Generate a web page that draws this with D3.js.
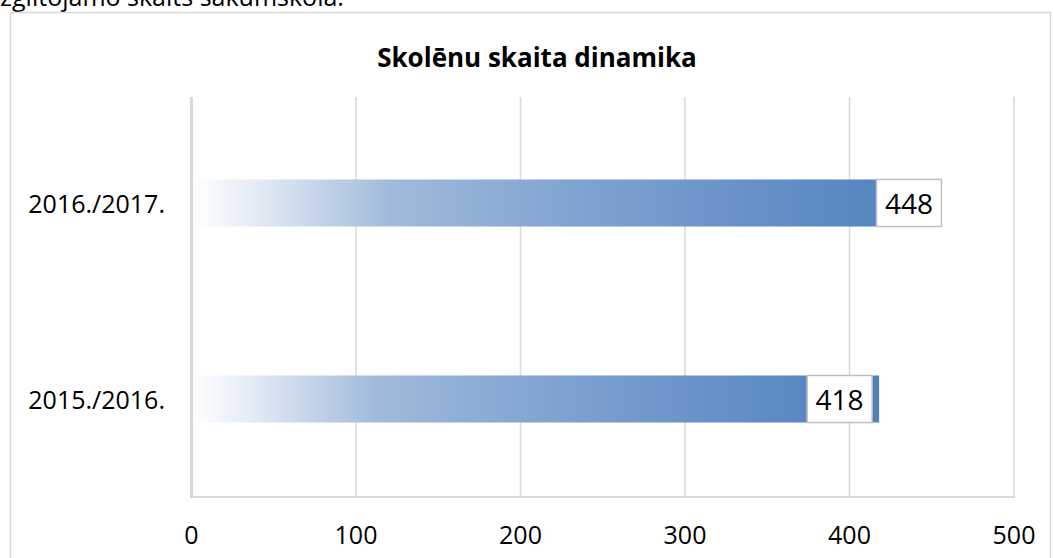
<!DOCTYPE html>
<html>
<head>
<meta charset="utf-8">
<script src="https://cdn.jsdelivr.net/npm/d3@7"></script>
<style>
  body { margin: 0; background: #fff; overflow: hidden; }
  text { font-family: "Open Sans", "Noto Sans", sans-serif; fill: #000; }
</style>
</head>
<body>
<svg width="1053" height="558"></svg>
<script>
// data
const categories = ['2016./2017.', '2015./2016.'];
const values = [448, 418];
const xTicks = [0, 100, 200, 300, 400, 500];
const title = 'Skolēnu skaita dinamika';
const topText = 'izglītojamo skaits sākumskolā.';
// label box shift from bar end (excel placed them a bit differently)
const labelShift = [-52, -72];

const svg = d3.select('svg');
const plot = {left: 191.5, right: 1014, top: 105, bottom: 497, gridTop: 97};

// text cut off at top of page
svg.append('text')
    .attr('x', -6).attr('y', 6)
    .style('font-size', '25px')
    .text(topText);

// chart border
svg.append('rect')
    .attr('x', 10.5).attr('y', 12.5)
    .attr('width', 1040).attr('height', 560)
    .style('fill', 'none').style('stroke', '#d9d9d9').style('stroke-width', 1.5);

svg.append('text')
    .attr('x', 537).attr('y', 57)
    .attr('text-anchor', 'middle')
    .attr('dominant-baseline', 'central')
    .style('font-size', '26px').style('font-weight', 'bold')
    .text(title);

const x = d3.scaleLinear().domain([0, 500]).range([plot.left, plot.right]);
const y = d3.scaleBand().domain(categories).range([plot.top, plot.bottom])
    .paddingInner(0.76).paddingOuter(0.38);

// gradient
const defs = svg.append('defs');
const grad = defs.append('linearGradient').attr('id', 'barGrad')
    .attr('x1', 0).attr('x2', 1).attr('y1', 0).attr('y2', 0);
[[0, '#ffffff'], [0.08, '#e6edf6'], [0.27, '#a0badb'], [0.5, '#82a5d1'],
 [0.75, '#6891c8'], [1, '#4f81bd']].forEach(s => {
    grad.append('stop').attr('offset', s[0]).attr('stop-color', s[1]);
});

// grid lines
svg.append('g').selectAll('line')
    .data(xTicks.slice(1))
    .enter().append('line')
    .attr('x1', d => x(d)).attr('x2', d => x(d))
    .attr('y1', plot.gridTop).attr('y2', plot.bottom)
    .style('stroke', '#d9d9d9').style('stroke-width', 1.5);

// bars
svg.append('g').selectAll('rect')
    .data(values)
    .enter().append('rect')
    .attr('x', x(0))
    .attr('y', (d, i) => y(categories[i]))
    .attr('width', d => x(d) - x(0))
    .attr('height', y.bandwidth())
    .style('fill', 'url(#barGrad)');

// axes lines
svg.append('line')
    .attr('x1', x(0)).attr('x2', x(0))
    .attr('y1', plot.gridTop).attr('y2', plot.bottom)
    .style('stroke', '#d9d9d9').style('stroke-width', 3);
svg.append('line')
    .attr('x1', x(0) - 1.5).attr('x2', plot.right + 1)
    .attr('y1', plot.bottom).attr('y2', plot.bottom)
    .style('stroke', '#d9d9d9').style('stroke-width', 2);

// x tick labels
svg.append('g').selectAll('text')
    .data(xTicks)
    .enter().append('text')
    .attr('x', d => x(d)).attr('y', 534)
    .attr('text-anchor', 'middle')
    .attr('dominant-baseline', 'central')
    .style('font-size', '25px')
    .text(d => d);

// category labels
svg.append('g').selectAll('text')
    .data(categories)
    .enter().append('text')
    .attr('x', 165).attr('y', d => y(d) + y.bandwidth() / 2)
    .attr('text-anchor', 'end')
    .attr('dominant-baseline', 'central')
    .style('font-size', '25px')
    .text(d => d);

// value labels
const lab = svg.append('g').selectAll('g')
    .data(values)
    .enter().append('g')
    .attr('transform', (d, i) => `translate(${x(d) + labelShift[i]},${y(categories[i])})`);
lab.append('rect')
    .attr('width', 65).attr('height', y.bandwidth())
    .style('fill', '#fff').style('stroke', '#bfbfbf').style('stroke-width', 1.5);
lab.append('text')
    .attr('x', 32.5).attr('y', y.bandwidth() / 2)
    .attr('text-anchor', 'middle')
    .attr('dominant-baseline', 'central')
    .style('font-size', '28px')
    .text(d => d);
</script>
</body>
</html>
